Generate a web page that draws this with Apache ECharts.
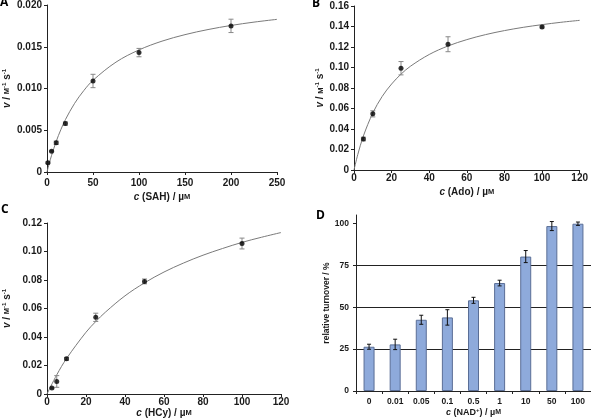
<!DOCTYPE html>
<html><head><meta charset="utf-8">
<script src="https://cdn.jsdelivr.net/npm/echarts@6/dist/echarts.min.js"></script>
<style>html,body{margin:0;padding:0;background:#fff}#c{width:591px;height:420px}</style>
</head><body><div id="c"></div>
<script>
// Panel A: SAH
const sahX = [1, 5, 10, 20, 50, 100, 200];
const sahV = [0.0011, 0.0025, 0.0035, 0.0058, 0.0109, 0.0143, 0.0175];
const sahErr = [0.0001, 0.0001, 0.0002, 0.0002, 0.0008, 0.0005, 0.0008];
const sahFitX = [0, 2.5, 5, 10, 15, 20, 30, 40, 50, 75, 100, 125, 150, 175, 200, 225, 250];
const sahFitV = [0, 0.00105, 0.0020, 0.00366, 0.00506, 0.00627, 0.00822, 0.00975, 0.01098, 0.01316, 0.01462, 0.01567, 0.01645, 0.01706, 0.01755, 0.01795, 0.01828];
// Panel B: Ado
const adoX = [5, 10, 25, 50, 100];
const adoV = [0.0302, 0.0548, 0.0993, 0.1227, 0.1396];
const adoErr = [0.0018, 0.003, 0.0065, 0.0073, 0.001];
const adoFitX = [0, 2, 5, 10, 15, 20, 25, 30, 40, 50, 60, 70, 80, 90, 100, 110, 120];
const adoFitV = [0, 0.0150, 0.0332, 0.0556, 0.0718, 0.0839, 0.0935, 0.1012, 0.1127, 0.1210, 0.1272, 0.1321, 0.1360, 0.1392, 0.1418, 0.1441, 0.1460];
// Panel C: HCy
const hcyX = [2.5, 5, 10, 25, 50, 100];
const hcyV = [0.0042, 0.0088, 0.0247, 0.0538, 0.079, 0.1056];
const hcyErr = [0.0005, 0.0041, 0.001, 0.0029, 0.0017, 0.0038];
const hcyFitX = [0, 5, 10, 20, 25, 30, 40, 50, 60, 70, 80, 90, 100, 110, 120];
const hcyFitV = [0, 0.01344, 0.02485, 0.04335, 0.05084, 0.0575, 0.0689, 0.0780, 0.0856, 0.0919, 0.0974, 0.1021, 0.1064, 0.1100, 0.1133];
// Panel D: NAD+
const nadCats = ['0', '0.01', '0.05', '0.1', '0.5', '1', '10', '50', '100'];
const nadVal = [26.4, 27.8, 42.5, 43.9, 54.1, 64.4, 80.2, 98.4, 99.8];
const nadErr = [1.5, 3.1, 2.7, 4.6, 1.8, 1.7, 3.6, 2.7, 1.0];
const nadTicks = [0, 25, 50, 75, 100];

const FONT = '"Liberation Sans", Arial, sans-serif';
const TXT = '#1a1a1a';

function errSeries(xi, xs, ys, es, color, capW) {
  return {
    type: 'custom', xAxisIndex: xi, yAxisIndex: xi, z: 4, silent: true,
    encode: { x: 0, y: [1, 2] },
    data: xs.map((x, i) => [x, ys[i] - es[i], ys[i] + es[i]]),
    renderItem: function (params, api) {
      const lo = api.coord([api.value(0), api.value(1)]);
      const hi = api.coord([api.value(0), api.value(2)]);
      const h = capW / 2;
      const st = { stroke: color, lineWidth: 1 };
      return { type: 'group', children: [
        { type: 'line', shape: { x1: lo[0], y1: lo[1], x2: hi[0], y2: hi[1] }, style: st },
        { type: 'line', shape: { x1: lo[0] - h, y1: lo[1], x2: lo[0] + h, y2: lo[1] }, style: st },
        { type: 'line', shape: { x1: hi[0] - h, y1: hi[1], x2: hi[0] + h, y2: hi[1] }, style: st }
      ]};
    }
  };
}

const richName = {
  i: { fontStyle: 'italic', fontWeight: 'bold', fontSize: 10, fontFamily: FONT, color: TXT },
  n: { fontWeight: 'bold', fontSize: 10, fontFamily: FONT, color: TXT },
  m: { fontWeight: 'bold', fontSize: 7.5, fontFamily: FONT, color: TXT },
  sup: { fontWeight: 'bold', fontSize: 6, fontFamily: FONT, color: TXT, verticalAlign: 'top', lineHeight: 12 }
};
const vName = '{i|v}{n| / }{m|M}{sup|-1}{n| s}{sup|-1}';

function xAx(idx, min, max, interval, nm, margin, gap) {
  return {
    type: 'value', gridIndex: idx, min: min, max: max, interval: interval,
    name: '{i|c}{n| (' + nm + ') / µ}{m|M}', nameLocation: 'middle', nameGap: gap,
    nameTextStyle: { rich: richName },
    axisLine: { lineStyle: { color: '#222', width: 1 } },
    axisTick: { show: true, length: 3, lineStyle: { color: '#222' } },
    axisLabel: { fontFamily: FONT, fontWeight: 'bold', fontSize: 10, color: TXT, margin: margin },
    splitLine: { show: false }
  };
}
function yAx(idx, max, interval, dec, gap) {
  return {
    type: 'value', gridIndex: idx, min: 0, max: max, interval: interval,
    name: vName, nameLocation: 'middle', nameGap: gap, nameRotate: 90,
    nameTextStyle: { rich: richName },
    axisLine: { show: true, lineStyle: { color: '#222', width: 1 } },
    axisTick: { show: true, length: 3, lineStyle: { color: '#222' } },
    axisLabel: { fontFamily: FONT, fontWeight: 'bold', fontSize: 10, color: TXT, margin: 5,
      formatter: v => (v === 0 ? '0' : v.toFixed(dec)) },
    splitLine: { show: false }
  };
}

function fitSeries(i, xs, ys) {
  return { type: 'line', xAxisIndex: i, yAxisIndex: i, data: xs.map((x, k) => [x, ys[k]]),
    smooth: 0.35, showSymbol: false, silent: true, z: 2,
    lineStyle: { color: '#7a7a7a', width: 1 } };
}
function ptSeries(i, xs, ys) {
  return { type: 'scatter', xAxisIndex: i, yAxisIndex: i, data: xs.map((x, k) => [x, ys[k]]),
    symbol: 'circle', symbolSize: 5, itemStyle: { color: '#000' }, z: 5, silent: true };
}

const titleStyle = { fontFamily: '"Open Sans", sans-serif', fontWeight: 'bold', fontSize: 12, color: '#000' };

const option = {
  animation: false,
  backgroundColor: '#fff',
  title: [
    { text: 'A', left: 0, top: -3, textStyle: titleStyle, padding: 0 },
    { text: 'B', left: 312, top: -2, textStyle: titleStyle, padding: 0 },
    { text: 'C', left: 1, top: 204, textStyle: titleStyle, padding: 0 },
    { text: 'D', left: 316, top: 210, textStyle: titleStyle, padding: 0 }
  ],
  grid: [
    { left: 44, top: 5, width: 233, height: 167 },
    { left: 354, top: 6, width: 230, height: 164 },
    { left: 43, top: 223, width: 238, height: 171 },
    { left: 356, top: 215, width: 235, height: 176 }
  ],
  xAxis: [
    xAx(0, 0, 250, 50, 'SAH', 6, 20),
    xAx(1, 0, 120, 20, 'Ado', 3, 17),
    xAx(2, 0, 120, 20, 'HCy', 3, 12),
    {
      type: 'category', gridIndex: 3, data: nadCats, boundaryGap: true,
      name: '{i|c}{n| (NAD}{sup|+}{n|) / µ}{m|M}', nameLocation: 'middle', nameGap: 15,
      nameTextStyle: { rich: {
        i: { fontStyle: 'italic', fontWeight: 'bold', fontSize: 9, fontFamily: FONT, color: TXT },
        n: { fontWeight: 'bold', fontSize: 9, fontFamily: FONT, color: TXT },
        m: { fontWeight: 'bold', fontSize: 7, fontFamily: FONT, color: TXT },
        sup: { fontWeight: 'bold', fontSize: 6, fontFamily: FONT, color: TXT, verticalAlign: 'top', lineHeight: 11 }
      } },
      axisLine: { lineStyle: { color: '#222', width: 1 } },
      axisTick: { show: true, length: 3, lineStyle: { color: '#222' } },
      axisLabel: { fontFamily: FONT, fontWeight: 'bold', fontSize: 8.5, color: TXT, margin: 6, interval: 0 }
    }
  ],
  yAxis: [
    yAx(0, 0.02, 0.005, 3, 34),
    yAx(1, 0.16, 0.02, 2, 25),
    yAx(2, 0.12, 0.02, 2, 34),
    {
      type: 'value', gridIndex: 3, min: 0, max: 105, interval: 25,
      name: 'relative turnover / %', nameLocation: 'middle', nameGap: 23, nameRotate: 90,
      nameTextStyle: { fontFamily: FONT, fontWeight: 'bold', fontSize: 8.5, color: TXT },
      axisLine: { show: true, lineStyle: { color: '#222', width: 1 } },
      axisTick: { show: true, length: 3, lineStyle: { color: '#222' }, customValues: nadTicks },
      axisLabel: { fontFamily: FONT, fontWeight: 'bold', fontSize: 8.5, color: TXT, margin: 7, customValues: nadTicks },
      splitLine: { show: true, showMaxLine: false, lineStyle: { color: '#222', width: 1 } }
    }
  ],
  series: [
    fitSeries(0, sahFitX, sahFitV),
    errSeries(0, sahX, sahV, sahErr, '#888', 5),
    ptSeries(0, sahX, sahV),
    fitSeries(1, adoFitX, adoFitV),
    errSeries(1, adoX, adoV, adoErr, '#888', 5),
    ptSeries(1, adoX, adoV),
    fitSeries(2, hcyFitX, hcyFitV),
    errSeries(2, hcyX, hcyV, hcyErr, '#888', 5),
    ptSeries(2, hcyX, hcyV),
    {
      type: 'bar', xAxisIndex: 3, yAxisIndex: 3, data: nadVal, barWidth: 11, silent: true,
      itemStyle: { color: '#8eaadb', borderColor: '#5a6e96', borderWidth: 1 }, z: 2
    },
    errSeries(3, nadCats.map((c, i) => i), nadVal, nadErr, '#111', 4)
  ]
};
const chart = echarts.init(document.getElementById('c'), null, { renderer: 'canvas' });
chart.setOption(option);
</script>
</body></html>
